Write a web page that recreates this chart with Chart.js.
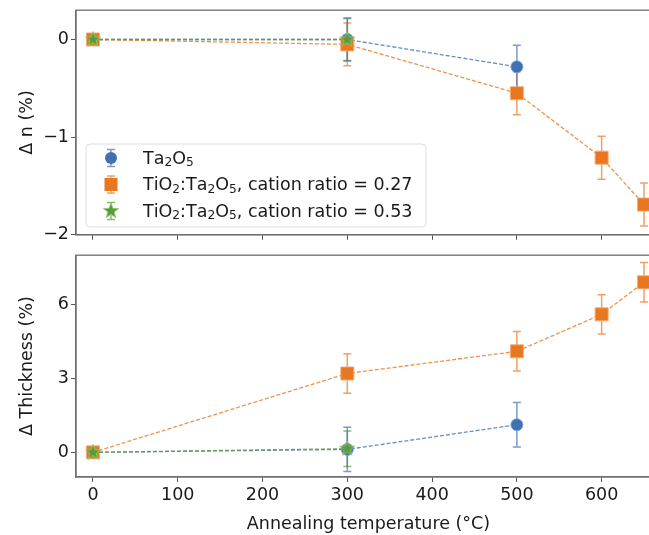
<!DOCTYPE html>
<html>
<head>
<meta charset="utf-8">
<script src="https://cdn.jsdelivr.net/npm/chart.js@4.4.0/dist/chart.umd.min.js"></script>
<style>
  html, body { margin: 0; padding: 0; background: #fff; overflow: hidden; }
  #wrap { position: relative; width: 649px; height: 535px; overflow: hidden; }
  .panel { position: absolute; left: 0; width: 662px; }
  #topPanel { top: 0; height: 245px; }
  #botPanel { top: 245px; height: 290px; }
</style>
</head>
<body>
<div id="wrap">
  <div class="panel" id="topPanel"><canvas id="topChart" width="662" height="245"></canvas></div>
  <div class="panel" id="botPanel"><canvas id="botChart" width="662" height="290"></canvas></div>
</div>
<script>
// temperatures (°C)
const tempTa = [0, 300, 500];
const tempTi27 = [0, 300, 500, 600, 650];
const tempTi53 = [0, 300];

// change of refractive index (%)
const dnTa = [0, 0, -0.28];
const dnTaErr = [0, 0.22, 0.22];
const dnTi27 = [0, -0.05, -0.55, -1.21, -1.69];
const dnTi27Err = [0, 0.22, 0.22, 0.22, 0.22];
const dnTi53 = [0, 0];
const dnTi53Err = [0, 0.215];

// change of thickness (%)
const thTa = [0, 0.12, 1.12];
const thTaErr = [0, 0.9, 0.9];
const thTi27 = [0, 3.2, 4.1, 5.6, 6.9];
const thTi27Err = [0, 0.8, 0.8, 0.8, 0.8];
const thTi53 = [0, 0.15];
const thTi53Err = [0, 0.72];

const legendLabels = ['Ta₂O₅', 'TiO₂:Ta₂O₅, cation ratio = 0.27', 'TiO₂:Ta₂O₅, cation ratio = 0.53'];
const xTicks = [0, 100, 200, 300, 400, 500, 600];
const dnTicks = [-2, -1, 0];
const thTicks = [0, 3, 6];

const BLUE = '#4170b2', ORANGE = '#e8771f', GREEN = '#5a9d37';
const FONT = { family: 'DejaVu Sans', size: 17.5 };
const TXT = '#1a1a1a';
const AREA_RIGHT = 661; // right spine sits just past the visible edge

// filled star marker (Chart.js 'star' is only strokes)
function makeStar(r, fill, edge) {
  const c = document.createElement('canvas');
  const s = Math.ceil(r * 2 + 4);
  c.width = s; c.height = s;
  const g = c.getContext('2d');
  g.beginPath();
  for (let i = 0; i < 10; i++) {
    const rad = i % 2 === 0 ? r : r * 0.42;
    const a = -Math.PI / 2 + i * Math.PI / 5;
    const px = s / 2 + rad * Math.cos(a), py = s / 2 + rad * Math.sin(a);
    if (i === 0) g.moveTo(px, py); else g.lineTo(px, py);
  }
  g.closePath();
  g.fillStyle = fill; g.fill();
  g.strokeStyle = edge; g.lineWidth = 1; g.stroke();
  return c;
}
const starImg = makeStar(8, GREEN, 'rgba(150,200,120,0.9)');

function pts(xs, ys) { return xs.map((x, i) => ({ x: x, y: ys[i] })); }

function series(label, xs, ys, errs, color, edge, style, radius, order) {
  return {
    label: label,
    data: pts(xs, ys),
    errors: errs,
    errColor: color + 'b0',
    borderColor: color + 'cc',
    borderWidth: 1.3,
    borderDash: [4, 2],
    backgroundColor: color,
    pointBackgroundColor: color,
    pointBorderColor: edge,
    pointBorderWidth: 1,
    pointStyle: style,
    pointRadius: radius,
    showLine: true,
    fill: false,
    order: order
  };
}

// stretch the x scale so the plot runs on past the visible edge
const stretchX = {
  id: 'stretchX',
  afterLayout(chart) {
    const x = chart.scales.x;
    x.right = AREA_RIGHT;
    x.width = x.right - x.left;
    x.configure();
    chart.chartArea.right = AREA_RIGHT;
    chart.chartArea.width = AREA_RIGHT - chart.chartArea.left;
  }
};

const errorBars = {
  id: 'errorBars',
  beforeDatasetsDraw(chart) {
    const { ctx, scales: { x, y } } = chart;
    const sets = chart.data.datasets.slice().reverse();
    sets.forEach(ds => {
      ctx.save();
      ctx.strokeStyle = ds.errColor;
      ctx.lineWidth = 1.5;
      ds.data.forEach((p, j) => {
        const e = ds.errors[j];
        if (!e) return;
        const px = x.getPixelForValue(p.x);
        const y0 = y.getPixelForValue(p.y - e), y1 = y.getPixelForValue(p.y + e);
        ctx.beginPath();
        ctx.moveTo(px, y0); ctx.lineTo(px, y1);
        ctx.moveTo(px - 4, y0); ctx.lineTo(px + 4, y0);
        ctx.moveTo(px - 4, y1); ctx.lineTo(px + 4, y1);
        ctx.stroke();
      });
      ctx.restore();
    });
  }
};

const frame = {
  id: 'frame',
  afterDraw(chart) {
    const { ctx, chartArea: a } = chart;
    ctx.save();
    ctx.strokeStyle = '#6f6f6f';
    ctx.lineWidth = 1.3;
    ctx.strokeRect(a.left, a.top, a.right - a.left, a.bottom - a.top);
    ctx.restore();
  }
};

// text with unicode subscript digits drawn smaller and lowered
function drawRich(ctx, text, x, y, size) {
  const subs = '₀₁₂₃₄₅₆₇₈₉';
  let cx = x;
  for (const ch of text) {
    const k = subs.indexOf(ch);
    if (k >= 0) {
      ctx.font = (size * 0.7) + 'px "DejaVu Sans"';
      ctx.fillText(String(k), cx, y + size * 0.22);
      cx += ctx.measureText(String(k)).width;
    } else {
      ctx.font = size + 'px "DejaVu Sans"';
      ctx.fillText(ch, cx, y);
      cx += ctx.measureText(ch).width;
    }
  }
}

const legendBox = {
  id: 'legendBox',
  afterDraw(chart) {
    const ctx = chart.ctx;
    const left = 86, top = 144, w = 340, h = 83;
    ctx.save();
    ctx.beginPath();
    ctx.roundRect(left, top, w, h, 4);
    ctx.fillStyle = 'rgba(255,255,255,0.85)';
    ctx.fill();
    ctx.strokeStyle = '#dcdcdc';
    ctx.lineWidth = 1;
    ctx.stroke();
    const colors = [BLUE, ORANGE, GREEN];
    const rows = [158, 184.5, 211];
    rows.forEach((ry, i) => {
      const mx = 111;
      ctx.strokeStyle = colors[i] + 'b0';
      ctx.lineWidth = 1.5;
      ctx.beginPath();
      ctx.moveTo(mx, ry - 8.5); ctx.lineTo(mx, ry + 8.5);
      ctx.moveTo(mx - 4, ry - 8.5); ctx.lineTo(mx + 4, ry - 8.5);
      ctx.moveTo(mx - 4, ry + 8.5); ctx.lineTo(mx + 4, ry + 8.5);
      ctx.stroke();
      ctx.fillStyle = colors[i];
      if (i === 0) {
        ctx.beginPath(); ctx.arc(mx, ry, 6, 0, Math.PI * 2); ctx.fill();
      } else if (i === 1) {
        ctx.fillRect(mx - 6.5, ry - 6.5, 13, 13);
      } else {
        ctx.drawImage(starImg, mx - starImg.width / 2, ry - starImg.height / 2);
      }
      ctx.fillStyle = TXT;
      ctx.textBaseline = 'middle';
      drawRich(ctx, legendLabels[i], 143, ry + 1, 17.5);
    });
    ctx.restore();
  }
};

function minusFmt(v) { return String(v).replace('-', '\u2212'); }

// fixed box sizes, no extra room for overhanging tick labels
function fixSize(prop, val) {
  return s => {
    s[prop] = val;
    s.paddingTop = 0; s.paddingBottom = 0; s.paddingLeft = 0; s.paddingRight = 0;
  };
}

function makeScales(yMin, yMax, yTicks, yTitle, showX, xHeight) {
  return {
    x: {
      type: 'linear', min: -20, max: 670,
      afterBuildTicks: s => { s.ticks = xTicks.map(v => ({ value: v })); },
      afterFit: fixSize('height', xHeight),
      ticks: { display: showX, font: FONT, color: TXT, padding: 3, maxRotation: 0 },
      grid: { drawOnChartArea: false, tickLength: 5, color: '#555', tickWidth: 1 },
      border: { color: '#6f6f6f', width: 1.3 },
      title: { display: showX, text: 'Annealing temperature (°C)', font: FONT, color: TXT, padding: { top: 0, bottom: 0.5 } }
    },
    y: {
      type: 'linear', min: yMin, max: yMax,
      afterBuildTicks: s => { s.ticks = yTicks.map(v => ({ value: v })); },
      afterFit: fixSize('width', 76),
      ticks: { font: FONT, color: TXT, padding: 2, callback: v => minusFmt(v) },
      grid: { drawOnChartArea: false, tickLength: 5, color: '#555', tickWidth: 1 },
      border: { color: '#6f6f6f', width: 1.3 },
      title: { display: true, text: yTitle, font: FONT, color: TXT, padding: { top: 16.5, bottom: 0 } }
    }
  };
}

function baseOptions(padTop, scales) {
  return {
    responsive: false,
    maintainAspectRatio: false,
    animation: false,
    layout: { padding: { top: padTop, left: 0, right: 0, bottom: 0 } },
    plugins: { legend: { display: false }, tooltip: { enabled: false } },
    scales: scales
  };
}

new Chart(document.getElementById('topChart'), {
  type: 'scatter',
  data: {
    datasets: [
      series(legendLabels[0], tempTa, dnTa, dnTaErr, BLUE, 'rgba(120,160,215,0.9)', 'circle', 6, 2),
      series(legendLabels[1], tempTi27, dnTi27, dnTi27Err, ORANGE, 'rgba(245,170,110,0.9)', 'rect', 9.2, 1),
      series(legendLabels[2], tempTi53, dnTi53, dnTi53Err, GREEN, 'rgba(150,200,120,0.9)', starImg, 8, 0)
    ]
  },
  options: baseOptions(9, makeScales(-2, 0.3, dnTicks, 'Δ n (%)', false, 8)),
  plugins: [stretchX, errorBars, frame, legendBox]
});

new Chart(document.getElementById('botChart'), {
  type: 'scatter',
  data: {
    datasets: [
      series(legendLabels[0], tempTa, thTa, thTaErr, BLUE, 'rgba(120,160,215,0.9)', 'circle', 6, 2),
      series(legendLabels[1], tempTi27, thTi27, thTi27Err, ORANGE, 'rgba(245,170,110,0.9)', 'rect', 9.2, 1),
      series(legendLabels[2], tempTi53, thTi53, thTi53Err, GREEN, 'rgba(150,200,120,0.9)', starImg, 8, 0)
    ]
  },
  options: baseOptions(4, makeScales(-1, 8, thTicks, 'Δ Thickness (%)', true, 58)),
  plugins: [stretchX, errorBars, frame]
});
</script>
</body>
</html>
